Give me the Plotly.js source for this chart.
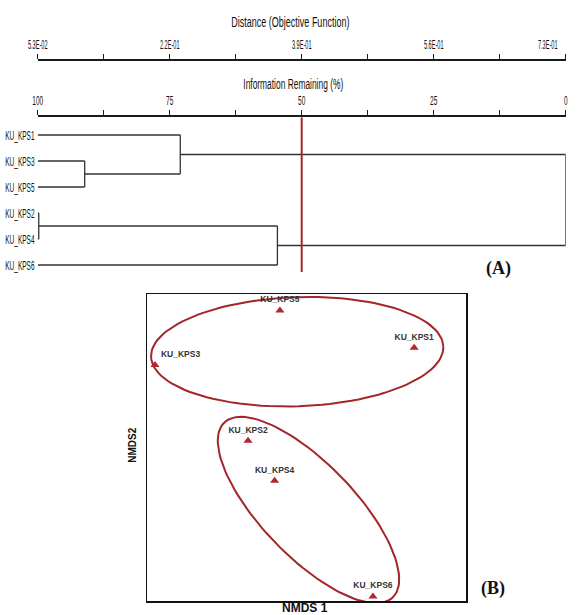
<!DOCTYPE html>
<html><head><meta charset="utf-8">
<script src="https://cdn.plot.ly/plotly-3.0.1.min.js"></script>
<style>html,body{margin:0;padding:0;background:#fff}</style>
</head><body><div id="chart" style="width:577px;height:615px"></div>
<script>
// ---- (A) dendrogram data ----
const leafLabels = ['KU_KPS1','KU_KPS3','KU_KPS5','KU_KPS2','KU_KPS4','KU_KPS6'];
// linkage: nodes 0-5 are leaves, 6+ are clusters in merge order
const linkLeft  = [1, 0, 3, 8, 7];
const linkRight = [2, 6, 4, 5, 9];
const linkIR    = [91.1, 73.0, 99.8, 54.6, 0];   // information remaining (%) at merge
const cutIR = 50;
const irTicks = [100, 75, 50, 25, 0];
const distTickVals = [0.053, 0.2223, 0.3915, 0.5608, 0.73];
const distTickText = ['5.3E-02','2.2E-01','3.9E-01','5.6E-01','7.3E-01'];

// ---- (B) NMDS data ----
const siteNames = ['KU_KPS1','KU_KPS2','KU_KPS3','KU_KPS4','KU_KPS5','KU_KPS6'];
const nmds1 = [0.81, -0.44, -1.14, -0.24, -0.20, 0.50];
const nmds2 = [0.75, 0.05, 0.62, -0.25, 1.03, -1.12];
const groupCx = [-0.07, 0.015];
const groupCy = [0.72, -0.47];
const groupA  = [1.10, 0.913];
const groupB  = [0.41, 0.35];
const groupAngle = [2, -46];

const LINE = '#333333';
const RED = '#a3262b';
const FONT = 'Liberation Sans, Arial, sans-serif';

// dendrogram segments
const nodeIR = leafLabels.map(() => 100);
const nodeY = leafLabels.map((_, i) => i);
const dx = [], dy = [];
linkLeft.forEach((l, k) => {
  const r = linkRight[k], h = linkIR[k];
  [l, r].forEach(c => { dx.push(nodeIR[c], h, null); dy.push(nodeY[c], nodeY[c], null); });
  dx.push(h, h, null); dy.push(nodeY[l], nodeY[r], null);
  nodeIR.push(h); nodeY.push((nodeY[l] + nodeY[r]) / 2);
});

function ellipse(cx, cy, a, b, deg) {
  const t = deg * Math.PI / 180, xs = [], ys = [];
  for (let i = 0; i <= 120; i++) {
    const u = 2 * Math.PI * i / 120;
    const ex = a * Math.cos(u), ey = b * Math.sin(u);
    xs.push(cx + ex * Math.cos(t) - ey * Math.sin(t));
    ys.push(cy + ex * Math.sin(t) + ey * Math.cos(t));
  }
  return {x: xs, y: ys};
}

const traces = [
  {x: dx, y: dy, xaxis: 'x', yaxis: 'y', mode: 'lines', line: {color: LINE, width: 1.3},
   hoverinfo: 'skip', showlegend: false},
  {x: [distTickVals[0], distTickVals[distTickVals.length - 1]], y: [0, 0], xaxis: 'x2', yaxis: 'y',
   mode: 'markers', marker: {opacity: 0}, hoverinfo: 'skip', showlegend: false}
];
groupCx.forEach((cx, g) => {
  const e = ellipse(cx, groupCy[g], groupA[g], groupB[g], groupAngle[g]);
  traces.push({x: e.x, y: e.y, xaxis: 'x3', yaxis: 'y3', mode: 'lines',
    line: {color: RED, width: 2}, hoverinfo: 'skip', showlegend: false, cliponaxis: false});
});
traces.push({
  x: nmds1, y: nmds2, text: siteNames, xaxis: 'x3', yaxis: 'y3', mode: 'markers+text',
  textposition: siteNames.map(n => n === 'KU_KPS3' ? 'top right' : 'top center'),
  textfont: {family: FONT, size: 8.5, color: '#333', weight: 'bold'},
  marker: {symbol: 'triangle-up', size: 8, color: '#b3262b'},
  cliponaxis: false, showlegend: false, hoverinfo: 'skip'
});

const topAxis = {
  side: 'top', showline: true, linewidth: 2, linecolor: '#1a1a1a',
  ticks: 'outside', ticklen: 5, tickwidth: 1.2, tickcolor: '#1a1a1a',
  showgrid: false, zeroline: false, ticklabeloverflow: 'allow',
  tickfont: {family: FONT, size: 13, color: '#111'}
};

const P = (t, x, y, font, extra) => Object.assign({text: t, x: x, y: y, xref: 'paper', yref: 'paper',
  xanchor: 'center', yanchor: 'middle', showarrow: false, font: font}, extra || {});

const annotations = [
  P('Distance (Objective Function)', 0.5026, 1 - 21 / 615, {family: FONT, size: 15, color: '#111'}),
  P('Information Remaining (%)', 0.5078, 1 - 84 / 615, {family: FONT, size: 14, color: '#111'})
];
leafLabels.forEach((lab, i) => annotations.push({
  text: lab, x: 100, y: i, xref: 'x', yref: 'y', xanchor: 'right', yanchor: 'middle', align: 'right', xshift: -1,
  showarrow: false, font: {family: FONT, size: 13, color: '#111'}
}));
const squeezeUntil = annotations.length;
const SERIF = {family: 'Liberation Serif, Times New Roman, serif', size: 18, color: '#111', weight: 'bold'};
annotations.push(
  P('(A)', 498 / 577, 1 - 268 / 615, SERIF),
  P('(B)', 493 / 577, 1 - 588 / 615, SERIF),
  P('NMDS 1', 305 / 577, 1 - 608 / 615, {family: FONT, size: 12, color: '#111', weight: 'bold'}),
  P('NMDS2', 131.7 / 577, 1 - 445 / 615, {family: FONT, size: 10, color: '#111', weight: 'bold'}, {textangle: -90})
);

const layout = {
  width: 577, height: 615, margin: {l: 0, r: 0, t: 0, b: 0},
  paper_bgcolor: '#fff', plot_bgcolor: 'rgba(0,0,0,0)', showlegend: false,
  xaxis: Object.assign({}, topAxis, {
    domain: [37.7 / 577, 565.7 / 577], range: [100.0001, -0.0001], anchor: 'y',
    tickmode: 'array', tickvals: irTicks, ticktext: irTicks.map(String),
    minor: {tickmode: 'linear', tick0: 0, dtick: 12.5, ticks: 'outside', ticklen: 5, tickwidth: 1.2, tickcolor: '#1a1a1a', showgrid: false}
  }),
  xaxis2: Object.assign({}, topAxis, {
    overlaying: 'x', anchor: 'free', position: 1 - 60.3 / 615, range: [0.0529999, 0.7300001],
    tickmode: 'array', tickvals: distTickVals, ticktext: distTickText,
    minor: {tickmode: 'linear', tick0: 0.053, dtick: 0.084625, ticks: 'outside', ticklen: 5, tickwidth: 1.2, tickcolor: '#1a1a1a', showgrid: false}
  }),
  yaxis: {domain: [1 - 285 / 615, 1 - 117.3 / 615], range: [5.769, -0.681], visible: false, anchor: 'x'},
  xaxis3: {domain: [147 / 577, 466 / 577], range: [-1.2, 1.2], anchor: 'y3', showline: true, mirror: true,
    linewidth: 1.5, linecolor: '#111', ticks: '', showticklabels: false, showgrid: false, zeroline: false},
  yaxis3: {domain: [1 - 601 / 615, 1 - 294 / 615], range: [-1.154, 1.154], anchor: 'x3', showline: true, mirror: true,
    linewidth: 1.5, linecolor: '#111', ticks: '', showticklabels: false, showgrid: false, zeroline: false},
  shapes: [
    {type: 'line', xref: 'x', yref: 'y', x0: cutIR, x1: cutIR, y0: -0.681, y1: 5.27,
     line: {color: RED, width: 2}}
  ],
  annotations: annotations
};

const gd = document.getElementById('chart');
Plotly.newPlot(gd, traces, layout, {staticPlot: true}).then(() => {
  // the reference's upper panel uses a strongly condensed typeface
  const squeeze = (el, f) => {
    const L = el.getComputedTextLength();
    if (L > 0) { el.setAttribute('textLength', (L * f).toFixed(2)); el.setAttribute('lengthAdjust', 'spacingAndGlyphs'); }
  };
  gd.querySelectorAll('.xtick text').forEach(el => squeeze(el, 0.5));
  gd.querySelectorAll('.x2tick text').forEach(el => {
    squeeze(el, 0.43);
    // last distance label is pulled in from the page edge, as in the reference
    if (el.textContent === distTickText[distTickText.length - 1]) {
      el.setAttribute('x', String(parseFloat(el.getAttribute('x') || '0') - 18));
    }
  });
  gd.querySelectorAll('.annotation').forEach(g => {
    const i = +g.getAttribute('data-index');
    if (i < 2) g.querySelectorAll('text').forEach(el => squeeze(el, 0.6));
    else if (i < squeezeUntil) g.querySelectorAll('text').forEach(el => squeeze(el, 0.5));
  });
});
</script></body></html>
